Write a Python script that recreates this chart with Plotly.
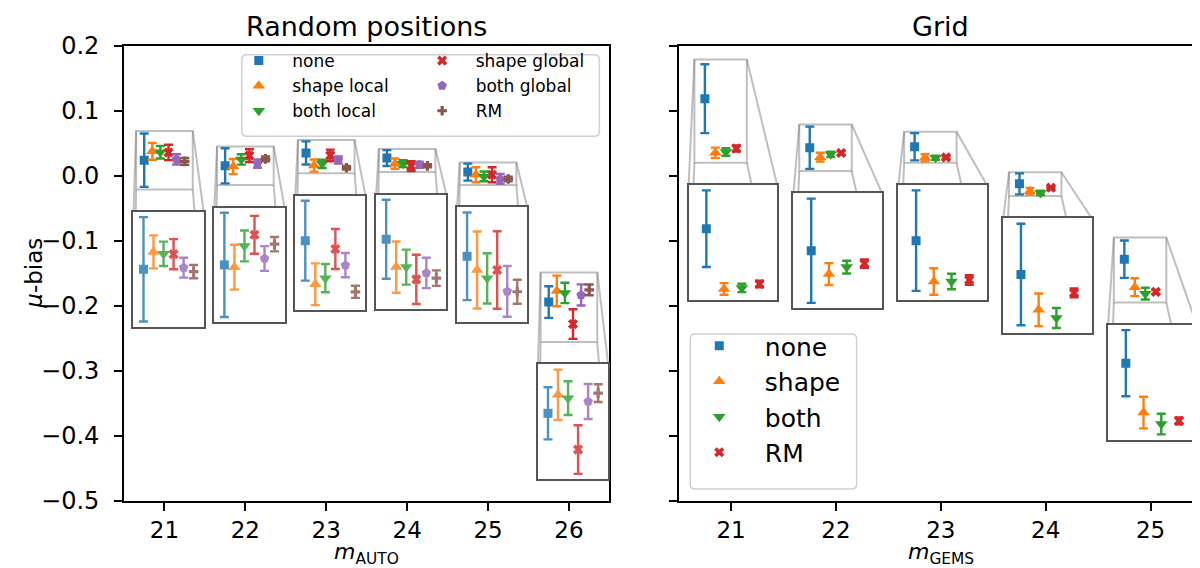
import plotly.graph_objects as go

# ---------------- data : left panel "Random positions" ----------------
mags_random = [21, 22, 23, 24, 25, 26]
labels_random = ["none", "shape local", "both local", "shape global", "both global", "RM"]
none_rand = [0.0243, 0.0157, 0.0354, 0.0276, 0.0060, -0.1940]
none_rand_err = [0.0410, 0.0270, 0.0178, 0.0122, 0.0131, 0.0243]
shape_local_rand = [0.0380, 0.0145, 0.0160, 0.0190, 0.0019, -0.1768]
shape_local_rand_err = [0.0130, 0.0116, 0.0093, 0.0079, 0.0115, 0.0235]
both_local_rand = [0.0365, 0.0255, 0.0187, 0.0190, -0.0006, -0.1799]
both_local_rand_err = [0.0096, 0.0080, 0.0063, 0.0054, 0.0075, 0.0157]
shape_global_rand = [0.0362, 0.0313, 0.0317, 0.0152, 0.0019, -0.2278]
shape_global_rand_err = [0.0118, 0.0098, 0.0089, 0.0076, 0.0116, 0.0227]
both_global_rand = [0.0256, 0.0190, 0.0245, 0.0172, -0.0045, -0.1830]
both_global_rand_err = [0.0078, 0.0064, 0.0054, 0.0047, 0.0076, 0.0163]
rm_rand = [0.0225, 0.0264, 0.0126, 0.0156, -0.0046, -0.1752]
rm_rand_err = [0.0052, 0.0037, 0.0027, 0.0024, 0.0036, 0.0083]

# ---------------- data : right panel "Grid" ----------------
mags_grid = [21, 22, 23, 24, 25]
labels_grid = ["none", "shape", "both", "RM"]
none_grid = [0.1190, 0.0435, 0.0450, -0.0121, -0.1280]
none_grid_err = [0.0530, 0.0325, 0.0209, 0.0162, 0.0288]
shape_grid = [0.0356, 0.0290, 0.0280, -0.0234, -0.1710]
shape_grid_err = [0.0080, 0.0068, 0.0055, 0.0052, 0.0138]
both_grid = [0.0370, 0.0333, 0.0280, -0.0260, -0.1810]
both_grid_err = [0.0058, 0.0040, 0.0032, 0.0032, 0.0090]
rm_grid = [0.0424, 0.0355, 0.0286, -0.0180, -0.1782]
rm_grid_err = [0.0046, 0.0026, 0.0020, 0.0014, 0.0030]

y_ticks = [-0.5, -0.4, -0.3, -0.2, -0.1, 0.0, 0.1, 0.2]

# ---------------- styles / layout constants ----------------
colors_random = ["#1f77b4", "#ff7f0e", "#2ca02c", "#d62728", "#9467bd", "#8c564b"]
symbols_random = ["square", "triangle-up", "triangle-down", "x", "pentagon", "cross"]
sizes_random = [9, 11, 11, 9, 10, 8]
colors_grid = ["#1f77b4", "#ff7f0e", "#2ca02c", "#d62728"]
symbols_grid = ["square", "triangle-up", "triangle-down", "x"]
sizes_grid = [9, 11, 11, 9]

W, H = 1200, 568
ML, MR, MT, MB = 116, 3, 38, 75
PW, PH = W - ML - MR, H - MT - MB
FONT = "DejaVu Sans"


def pxx(px):
    return (px - ML) / PW


def pxy(py):
    return (H - MB - py) / PH


YR = [-0.5, 0.2]
panels = [
    dict(xa="x", ya="y", mags=mags_random, labels=labels_random,
         vals=[none_rand, shape_local_rand, both_local_rand, shape_global_rand, both_global_rand, rm_rand],
         errs=[none_rand_err, shape_local_rand_err, both_local_rand_err, shape_global_rand_err,
               both_global_rand_err, rm_rand_err],
         colors=colors_random, symbols=symbols_random, sizes=sizes_random,
         dom=[0.0, pxx(602.3)], xr=[20.5, 26.5], inset_x0=-0.383, inset_w=0.868, inset_op=0.8,
         legends=["legend"] * 3 + ["legend2"] * 3),
    dict(xa="x2", ya="y2", mags=mags_grid, labels=labels_grid,
         vals=[none_grid, shape_grid, both_grid, rm_grid],
         errs=[none_grid_err, shape_grid_err, both_grid_err, rm_grid_err],
         colors=colors_grid, symbols=symbols_grid, sizes=sizes_grid,
         dom=[pxx(671.7), 1.0], xr=[20.5, 25.5], inset_x0=-0.405, inset_w=0.845, inset_op=1.0,
         legends=["legend3"] * 4),
]
INSET_GAP = 0.0345
INSET_H = 0.1765
RECT_COL = "rgba(128,128,128,0.5)"
EB_THICK = 2.4
EB_CAP = 4.5

fig = go.Figure()
shapes = []
layout_axes = {}
n_ax = 3

for p in panels:
    ns = len(p["labels"])
    offs = [(i - 2.5) * 0.1 for i in range(ns)]
    dom, xr = p["dom"], p["xr"]

    def dx(x, dom=dom, xr=xr):
        return dom[0] + (x - xr[0]) / (xr[1] - xr[0]) * (dom[1] - dom[0])

    def dy(y):
        return (y - YR[0]) / (YR[1] - YR[0])

    # main traces
    for s in range(ns):
        fig.add_trace(go.Scatter(
            x=[m + offs[s] for m in p["mags"]], y=p["vals"][s], mode="markers",
            name=p["labels"][s], legend=p["legends"][s],
            marker=dict(symbol=p["symbols"][s], size=p["sizes"][s], color=p["colors"][s], line=dict(width=0)),
            error_y=dict(type="data", array=p["errs"][s], visible=True, thickness=EB_THICK, width=EB_CAP,
                         color=p["colors"][s]),
            xaxis=p["xa"], yaxis=p["ya"]))

    # insets
    for j, g in enumerate(p["mags"]):
        lows = [p["vals"][s][j] - p["errs"][s][j] for s in range(ns)]
        highs = [p["vals"][s][j] + p["errs"][s][j] for s in range(ns)]
        r = max(highs) - min(lows)
        ry = [min(lows) - 0.05 * r, max(highs) + 0.05 * r]
        rx = [g + min(offs) - 0.1, g + max(offs) + 0.1]
        top = ry[0] - INSET_GAP
        bot = top - INSET_H
        ix0 = g + p["inset_x0"]
        ix1 = ix0 + p["inset_w"]

        ax = "x%d" % n_ax
        ay = "y%d" % n_ax
        layout_axes["xaxis%d" % n_ax] = dict(
            domain=[dx(ix0), dx(ix1)], range=rx, anchor=ay, showticklabels=False, ticks="",
            showgrid=False, zeroline=False, showline=True, mirror=True, linecolor="#555555", linewidth=1.6)
        layout_axes["yaxis%d" % n_ax] = dict(
            domain=[dy(bot), dy(top)], range=ry, anchor=ax, showticklabels=False, ticks="",
            showgrid=False, zeroline=False, showline=True, mirror=True, linecolor="#555555", linewidth=1.6)
        for s in range(ns):
            fig.add_trace(go.Scatter(
                x=[g + offs[s]], y=[p["vals"][s][j]], mode="markers", showlegend=False,
                opacity=p["inset_op"],
                marker=dict(symbol=p["symbols"][s], size=p["sizes"][s], color=p["colors"][s], line=dict(width=0)),
                error_y=dict(type="data", array=[p["errs"][s][j]], visible=True, thickness=EB_THICK,
                             width=EB_CAP, color=p["colors"][s]),
                xaxis=ax, yaxis=ay))
        n_ax += 1

        # indicator rectangle + connectors (in parent data coords)
        ln = dict(color=RECT_COL, width=2)
        shapes.append(dict(type="rect", xref=p["xa"], yref=p["ya"], x0=rx[0], x1=rx[1], y0=ry[0], y1=ry[1],
                           line=ln, layer="below"))
        shapes.append(dict(type="line", xref=p["xa"], yref=p["ya"], x0=rx[0], y0=ry[1], x1=ix0, y1=top,
                           line=ln, layer="below"))
        shapes.append(dict(type="line", xref=p["xa"], yref=p["ya"], x0=rx[1], y0=ry[1], x1=ix1, y1=top,
                           line=ln, layer="below"))
        t = (ry[0] - top) / (ry[0] - bot)
        shapes.append(dict(type="line", xref=p["xa"], yref=p["ya"], x0=rx[0], y0=ry[0],
                           x1=rx[0] + t * (ix0 - rx[0]), y1=top, line=ln, layer="below"))
        shapes.append(dict(type="line", xref=p["xa"], yref=p["ya"], x0=rx[1], y0=ry[0],
                           x1=rx[1] + t * (ix1 - rx[1]), y1=top, line=ln, layer="below"))


def rrect(x0, y0, x1, y1, rad=5):
    X0, X1, YT, YB = pxx(x0), pxx(x1), pxy(y0), pxy(y1)
    rx, ry = rad / PW, rad / PH
    return (f"M{X0+rx},{YT} L{X1-rx},{YT} Q{X1},{YT} {X1},{YT-ry} L{X1},{YB+ry} Q{X1},{YB} {X1-rx},{YB} "
            f"L{X0+rx},{YB} Q{X0},{YB} {X0},{YB+ry} L{X0},{YT-ry} Q{X0},{YT} {X0+rx},{YT} Z")


shapes.append(dict(type="path", xref="paper", yref="paper", path=rrect(234, 46.7, 592.3, 128.3),
                   line=dict(color="#d0d0d0", width=1.5), fillcolor="rgba(255,255,255,0.8)", layer="below"))
shapes.append(dict(type="path", xref="paper", yref="paper", path=rrect(683.3, 326, 850, 481),
                   line=dict(color="#d0d0d0", width=1.5), fillcolor="rgba(255,255,255,0.8)", layer="below"))

main_ax = dict(showgrid=False, zeroline=False, showline=True, mirror=True, linecolor="black", linewidth=1.6,
               ticks="outside", ticklen=8, tickwidth=1.6, tickcolor="black",
               tickfont=dict(family=FONT, size=24, color="black"))

leg_common = dict(xanchor="left", yanchor="top", bgcolor="rgba(0,0,0,0)", borderwidth=0)

fig.update_layout(
    width=W, height=H, margin=dict(l=ML, r=MR, t=MT, b=MB),
    paper_bgcolor="white", plot_bgcolor="white",
    font=dict(family=FONT, color="black"),
    xaxis=dict(main_ax, domain=panels[0]["dom"], range=panels[0]["xr"], anchor="y", tickvals=mags_random,
               ticklabelstandoff=0, tickfont=dict(family=FONT, size=23, color="black")),
    yaxis=dict(main_ax, domain=[0, 1], range=YR, anchor="x", tickvals=y_ticks, tickformat=".1f",
               ticklabelstandoff=10),
    xaxis2=dict(main_ax, domain=panels[1]["dom"], range=panels[1]["xr"], anchor="y2", tickvals=mags_grid,
                ticklabelstandoff=0, tickfont=dict(family=FONT, size=23, color="black")),
    yaxis2=dict(main_ax, domain=[0, 1], range=YR, anchor="x2", tickvals=y_ticks, showticklabels=False,
                matches="y"),
    legend=dict(leg_common, x=pxx(217.5), y=pxy(35), itemwidth=57, font=dict(family=FONT, size=17)),
    legend2=dict(leg_common, x=pxx(401.2), y=pxy(35), itemwidth=57, font=dict(family=FONT, size=17)),
    legend3=dict(leg_common, x=pxx(666.8), y=pxy(315), itemwidth=81, font=dict(family=FONT, size=25)),
    shapes=shapes,
    annotations=[
        dict(text="Random positions", x=sum(panels[0]["dom"]) / 2, y=pxy(0.5), xref="paper", yref="paper",
             showarrow=False, font=dict(family=FONT, size=27), xanchor="center", yanchor="top"),
        dict(text="Grid", x=sum(panels[1]["dom"]) / 2, y=pxy(0.5), xref="paper", yref="paper",
             showarrow=False, font=dict(family=FONT, size=27), xanchor="center", yanchor="top"),
        dict(text="<i>m</i><sub>AUTO</sub>", x=sum(panels[0]["dom"]) / 2, y=pxy(545), xref="paper",
             yref="paper", showarrow=False, font=dict(family=FONT, size=22), xanchor="center", yanchor="middle"),
        dict(text="<i>m</i><sub>GEMS</sub>", x=sum(panels[1]["dom"]) / 2, y=pxy(545), xref="paper",
             yref="paper", showarrow=False, font=dict(family=FONT, size=22), xanchor="center", yanchor="middle"),
        dict(text="<i>μ</i>-bias", x=pxx(25), y=0.5, xref="paper", yref="paper", textangle=-90,
             showarrow=False, font=dict(family=FONT, size=23), xanchor="center", yanchor="middle"),
    ],
)
fig.update_layout(**layout_axes)
fig.write_html("out.html")
